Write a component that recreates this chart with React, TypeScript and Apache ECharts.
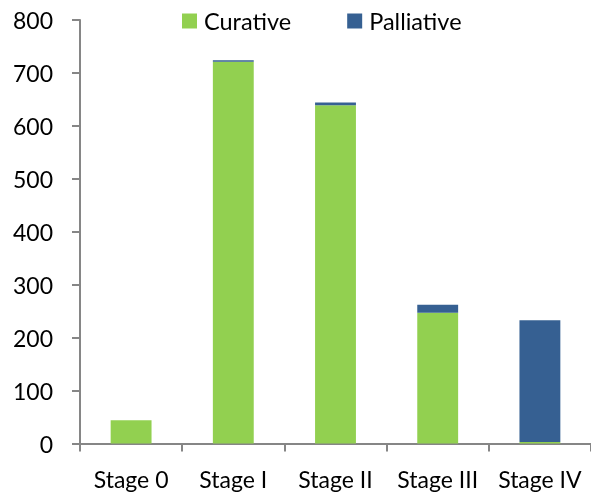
import React, { useEffect, useRef } from "react";
import * as echarts from "echarts";

const categories = ["Stage 0", "Stage I", "Stage II", "Stage III", "Stage IV"];
const curative = [44, 721, 639, 247, 3];
const palliative = [0, 3, 5, 15, 230];
const yTicks = { min: 0, max: 800, interval: 100 };

const FONT = "Lato";
const AXIS_GRAY = "#868686";

export default function App() {
  const ref = useRef<HTMLDivElement>(null);

  useEffect(() => {
    if (!ref.current) return;
    const chart = echarts.init(ref.current, null, { renderer: "svg" });
    chart.setOption({
      animation: false,
      textStyle: { fontFamily: FONT },
      legend: {
        left: 182,
        top: 9,
        padding: 0,
        itemWidth: 15,
        itemHeight: 15,
        itemGap: 56,
        icon: "rect",
        textStyle: { fontFamily: FONT, fontSize: 23.5, color: "#000", padding: [0, 0, 0, 2] },
        data: ["Curative", "Palliative"],
      },
      grid: { left: 80, top: 20, width: 512, height: 423.5 },
      xAxis: {
        type: "category",
        data: categories,
        axisLine: { lineStyle: { color: AXIS_GRAY, width: 2 } },
        axisTick: { show: true, length: 8, lineStyle: { color: AXIS_GRAY, width: 2 } },
        axisLabel: {
          color: "#000",
          fontSize: 23,
          fontFamily: FONT,
          margin: 24,
          interval: 0,
          hideOverlap: false,
        },
      },
      yAxis: {
        type: "value",
        min: yTicks.min,
        max: yTicks.max,
        interval: yTicks.interval,
        splitLine: { show: false },
        axisLine: { show: true, lineStyle: { color: AXIS_GRAY, width: 2 } },
        axisTick: { show: true, length: 8, lineStyle: { color: AXIS_GRAY, width: 2 } },
        axisLabel: { color: "#000", fontSize: 23, fontFamily: FONT, margin: 27 },
      },
      series: [
        {
          name: "Curative",
          type: "bar",
          stack: "total",
          barWidth: "40%",
          data: curative,
          itemStyle: { color: "#92D050" },
        },
        {
          name: "Palliative",
          type: "bar",
          stack: "total",
          barWidth: "40%",
          data: palliative,
          itemStyle: { color: "#366092" },
        },
      ],
    });
    return () => chart.dispose();
  }, []);

  return (
    <div
      ref={ref}
      style={{ position: "fixed", left: 0, top: 0, width: 591, height: 493 }}
    />
  );
}
